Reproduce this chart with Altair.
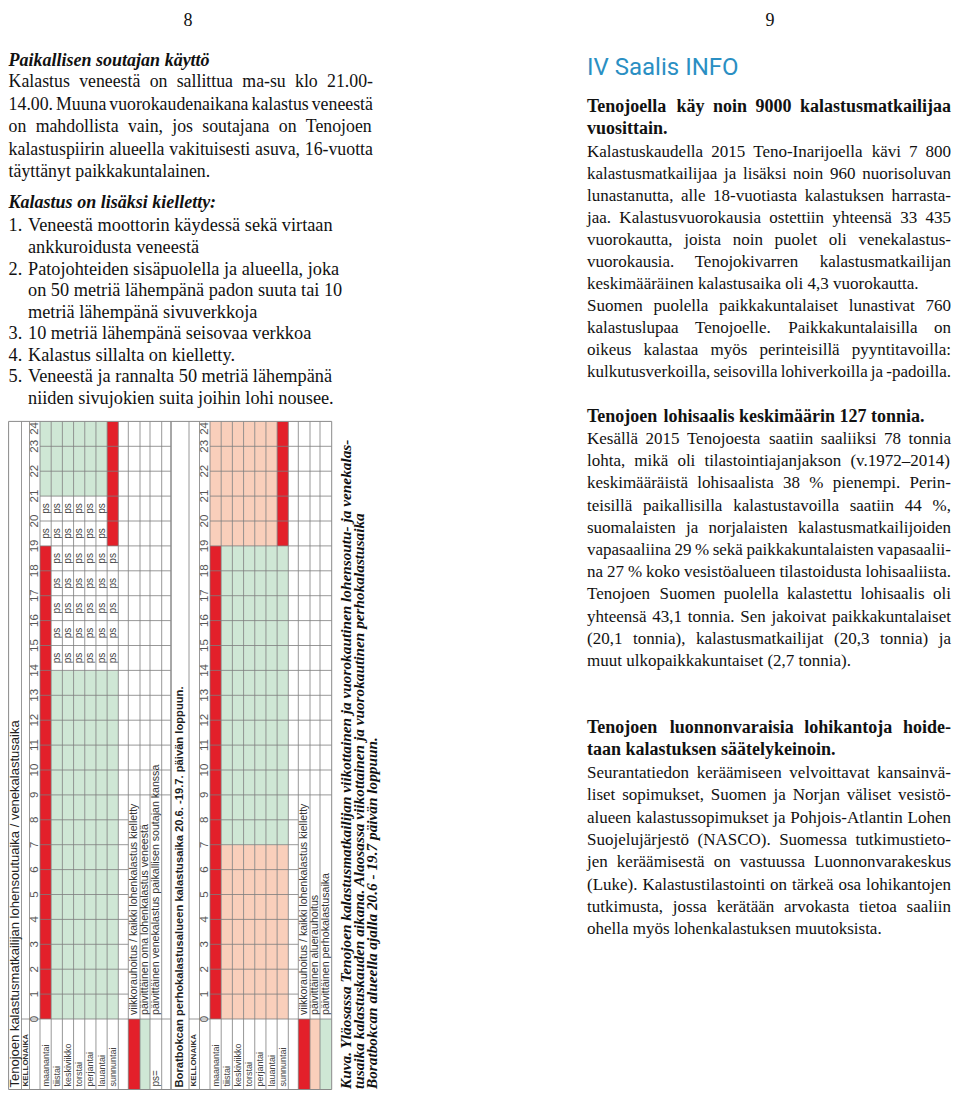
import altair as alt
import pandas as pd

# ---------------- data (text content, schedule values) ----------------
page_numbers = ["8", "9"]

left_heading_1 = "Paikallisen soutajan käyttö"
left_paragraph = [
    "Kalastus veneestä on sallittua ma-su klo 21.00-",
    "14.00. Muuna vuorokaudenaikana kalastus veneestä",
    "on mahdollista vain, jos soutajana on Tenojoen",
    "kalastuspiirin alueella vakituisesti asuva, 16-vuotta",
    "täyttänyt paikkakuntalainen.",
]
left_heading_2 = "Kalastus on lisäksi kielletty:"
list_numbers = ["1.", "", "2.", "", "", "3.", "4.", "5.", ""]
list_lines = [
    "Veneestä moottorin käydessä sekä virtaan",
    "ankkuroidusta veneestä",
    "Patojohteiden sisäpuolella ja alueella, joka",
    "on 50 metriä lähempänä padon suuta tai 10",
    "metriä lähempänä sivuverkkoja",
    "10 metriä lähempänä seisovaa verkkoa",
    "Kalastus sillalta on kielletty.",
    "Veneestä ja rannalta 50 metriä lähempänä",
    "niiden sivujokien suita joihin lohi nousee.",
]

right_title = "IV Saalis INFO"
right_bold_1 = ["Tenojoella käy noin 9000 kalastusmatkailijaa", "vuosittain."]
right_body_1 = [
    "Kalastuskaudella 2015 Teno-Inarijoella kävi 7 800",
    "kalastusmatkailijaa ja lisäksi noin 960 nuorisoluvan",
    "lunastanutta, alle 18-vuotiasta kalastuksen harrasta-",
    "jaa. Kalastusvuorokausia ostettiin yhteensä 33 435",
    "vuorokautta, joista noin puolet oli venekalastus-",
    "vuorokausia. Tenojokivarren kalastusmatkailijan",
    "keskimääräinen kalastusaika oli 4,3 vuorokautta.",
    "Suomen puolella paikkakuntalaiset lunastivat 760",
    "kalastuslupaa Tenojoelle. Paikkakuntalaisilla on",
    "oikeus kalastaa myös perinteisillä pyyntitavoilla:",
    "kulkutusverkoilla, seisovilla lohiverkoilla ja -padoilla.",
]
right_bold_2 = ["Tenojoen lohisaalis keskimäärin 127 tonnia."]
right_body_2 = [
    "Kesällä 2015 Tenojoesta saatiin saaliiksi 78 tonnia",
    "lohta, mikä oli tilastointiajanjakson (v.1972–2014)",
    "keskimääräistä lohisaalista 38 % pienempi. Perin-",
    "teisillä paikallisilla kalastustavoilla saatiin 44 %,",
    "suomalaisten ja norjalaisten kalastusmatkailijoiden",
    "vapasaaliina 29 % sekä paikkakuntalaisten vapasaalii-",
    "na 27 % koko vesistöalueen tilastoidusta lohisaaliista.",
    "Tenojoen Suomen puolella kalastettu lohisaalis oli",
    "yhteensä 43,1 tonnia. Sen jakoivat paikkakuntalaiset",
    "(20,1 tonnia), kalastusmatkailijat (20,3 tonnia) ja",
    "muut ulkopaikkakuntaiset (2,7 tonnia).",
]
right_bold_3 = ["Tenojoen luonnonvaraisia lohikantoja hoide-",
                "taan kalastuksen säätelykeinoin."]
right_body_3 = [
    "Seurantatiedon keräämiseen velvoittavat kansainvä-",
    "liset sopimukset, Suomen ja Norjan väliset vesistö-",
    "alueen kalastussopimukset ja Pohjois-Atlantin Lohen",
    "Suojelujärjestö (NASCO). Suomessa tutkimustieto-",
    "jen keräämisestä on vastuussa Luonnonvarakeskus",
    "(Luke). Kalastustilastointi on tärkeä osa lohikantojen",
    "tutkimusta, jossa kerätään arvokasta tietoa saaliin",
    "ohella myös lohenkalastuksen muutoksista.",
]
# lines that close a paragraph (not justified)
paragraph_ends_left = [4]
paragraph_ends_right_1 = [6, 10]
paragraph_ends_right_2 = [10]
paragraph_ends_right_3 = [7]

hours = list(range(25))
days = ["maanantai", "tiistai", "keskiviikko", "torstai",
        "perjantai", "lauantai", "sunnuntai"]
clock_label = "KELLONAIKA"
table_titles = [
    "Tenojoen kalastusmatkailijan lohensoutuaika / venekalastusaika",
    "Boratbokcan perhokalastusalueen kalastusaika 20.6. -19.7. päivän loppuun.",
]

# (start hour, end hour, category) for each day
schedule_1 = [
    [(0, 19, "kielletty"), (19, 21, "ps"), (21, 24, "sallittu")],
    [(0, 14, "sallittu"), (14, 21, "ps"), (21, 24, "sallittu")],
    [(0, 14, "sallittu"), (14, 21, "ps"), (21, 24, "sallittu")],
    [(0, 14, "sallittu"), (14, 21, "ps"), (21, 24, "sallittu")],
    [(0, 14, "sallittu"), (14, 21, "ps"), (21, 24, "sallittu")],
    [(0, 14, "sallittu"), (14, 21, "ps"), (21, 24, "sallittu")],
    [(0, 14, "sallittu"), (14, 19, "ps"), (19, 24, "kielletty")],
]
schedule_2 = [
    [(0, 19, "kielletty"), (19, 24, "rauhoitus")],
    [(0, 7, "rauhoitus"), (7, 19, "sallittu"), (19, 24, "rauhoitus")],
    [(0, 7, "rauhoitus"), (7, 19, "sallittu"), (19, 24, "rauhoitus")],
    [(0, 7, "rauhoitus"), (7, 19, "sallittu"), (19, 24, "rauhoitus")],
    [(0, 7, "rauhoitus"), (7, 19, "sallittu"), (19, 24, "rauhoitus")],
    [(0, 7, "rauhoitus"), (7, 19, "sallittu"), (19, 24, "rauhoitus")],
    [(0, 7, "rauhoitus"), (7, 19, "sallittu"), (19, 24, "kielletty")],
]
legend_1 = [
    ("kielletty", "viikkorauhoitus / kaikki lohenkalastus kielletty"),
    ("sallittu", "päivittäinen oma lohenkalastus veneestä"),
    ("ps", "päivittäinen venekalastus paikallisen soutajan kanssa"),
]
legend_2 = [
    ("kielletty", "viikkorauhoitus / kaikki lohenkalastus kielletty"),
    ("rauhoitus", "päivittäinen aluerauhoitus"),
    ("sallittu", "päivittäinen perhokalastusaika"),
]
ps_label = "ps"
ps_legend_label = "ps="
categories = ["kielletty", "sallittu", "rauhoitus", "ps"]
category_colors = ["#E3202A", "#CFE7D5", "#F9CFBB", "#FFFFFF"]

caption_lines = [
    "Kuva. Yläosassa Tenojoen kalastusmatkailijan viikottainen ja vuorokautinen lohensoutu- ja venekalas-",
    "tusaika kalastuskauden aikana. Alaosassa viikottainen ja vuorokautinen perhokalastusaika",
    "Boratbokcan alueella ajalla 20.6 - 19.7 päivän loppuun.",
]

# ---------------- layout (page pixel frame; the plot area starts at the 8px margin) ----------------
X_MIN, X_MAX, Y_MIN, Y_MAX = 8, 952, 8, 1090
W, H = X_MAX - X_MIN, Y_MAX - Y_MIN
SERIF = "Liberation Serif"
SANS = "Liberation Sans"
TITLE_FONT = "Roboto"

Y_H0, H_PX = 1019.0, 24.9          # hour 0 line, px per hour
Y_BOTTOM = 1089.5
TABLE_X0 = [1.0, 171.0]
TABLE_LEFT = [8.6, 171.0]
TITLE_X = [15.2, 180.0]
TITLE_BAND_END = [20.5, 18.0]
CLOCK_BAND = (18.0, 28.5)
HOUR_BAND = (28.5, 39.0)
DAY_X0, DAY_W = 39.0, 11.19
EXTRA_EDGES = [[117.3, 127.3, 139.0, 149.0, 160.7, 170.0],
               [117.3, 127.3, 139.0, 149.0, 160.7]]
LEGEND_COLS = [(127.3, 139.0), (139.0, 149.0), (149.0, 160.7)]
LEGEND_GRID_FROM = 9

# Times advance widths (1/1000 em) used to justify lines
_LOW = "abcdefghijklmnopqrstuvwxyz"
_UP = "ABCDEFGHIJKLMNOPQRSTUVWXYZ"
TIMES_R = dict(zip(_LOW, [444, 500, 444, 500, 444, 333, 500, 500, 278, 278, 500, 278, 778,
                          500, 500, 500, 500, 333, 389, 278, 500, 500, 722, 500, 500, 444]))
TIMES_R.update(zip(_UP, [722, 667, 667, 722, 611, 556, 722, 722, 333, 389, 722, 611, 889,
                         722, 722, 556, 722, 667, 556, 611, 722, 722, 944, 722, 722, 611]))
TIMES_R.update({" ": 250, ".": 250, ",": 250, "-": 333, ":": 278, ";": 278, "(": 333,
                ")": 333, "%": 833, "/": 278, "–": 500})
TIMES_B = dict(zip(_LOW, [500, 556, 444, 556, 444, 333, 500, 556, 278, 333, 556, 278, 833,
                          556, 500, 556, 556, 444, 389, 333, 556, 500, 722, 500, 500, 444]))
TIMES_B.update(zip(_UP, [722, 667, 722, 722, 667, 611, 778, 778, 389, 500, 778, 667, 944,
                         722, 778, 611, 778, 722, 556, 667, 722, 722, 1000, 722, 722, 667]))
TIMES_B.update({" ": 250, ".": 250, ",": 250, "-": 333, ":": 333, ";": 333, "(": 333,
                ")": 333, "%": 1000, "/": 278, "–": 500})
for tb in (TIMES_R, TIMES_B):
    tb.update({"ä": tb["a"], "ö": tb["o"], "å": tb["a"], "Ä": tb["A"], "Ö": tb["O"]})


def text_w(s, table, size):
    return sum(table.get(c, 500) for c in s) * size / 1000.0


def justified_words(lines, x0, x1, y0, dy, size, table, ends):
    rows = []
    for i, line in enumerate(lines):
        words = line.split(" ")
        ws = [text_w(w, table, size) for w in words]
        space = table[" "] * size / 1000.0
        natural = sum(ws) + space * (len(words) - 1)
        gap = space
        if len(words) > 1 and (i not in ends or natural > x1 - x0):
            gap = max((x1 - x0 - sum(ws)) / (len(words) - 1), 2.5)
        x = x0
        for w, wd in zip(words, ws):
            rows.append(dict(x=x, y=y0 + dy * i, t=w))
            x += wd + gap
    return rows


def hour_y(h):
    return Y_H0 - h * H_PX


XS = alt.Scale(domain=[X_MIN, X_MAX], nice=False, zero=False)
YS = alt.Scale(domain=[Y_MAX, Y_MIN], nice=False, zero=False)


def text_layer(rows, **mark):
    df = pd.DataFrame(rows)
    return alt.Chart(df).mark_text(**mark).encode(
        x=alt.X("x:Q", scale=XS, axis=None),
        y=alt.Y("y:Q", scale=YS, axis=None),
        text=alt.Text("t:N"))


def seg_layer(rows, mark):
    return alt.Chart(pd.DataFrame(rows)).mark_rule(**mark).encode(
        x=alt.X("x:Q", scale=XS, axis=None), x2="x2:Q",
        y=alt.Y("y:Q", scale=YS, axis=None), y2="y2:Q")


layers = []

# ---- table fills ----
cells = []
for t, sched in enumerate([schedule_1, schedule_2]):
    x0 = TABLE_X0[t]
    for i, segs in enumerate(sched):
        xa = x0 + DAY_X0 + i * DAY_W
        for a, b, cat in segs:
            cells.append(dict(x=xa, x2=xa + DAY_W, y=hour_y(b), y2=hour_y(a), cat=cat))
for t, legend in enumerate([legend_1, legend_2]):
    x0 = TABLE_X0[t]
    for k, (cat, label) in enumerate(legend):
        c0, c1 = LEGEND_COLS[k]
        if cat != "ps":
            cells.append(dict(x=x0 + c0, x2=x0 + c1, y=hour_y(0), y2=Y_BOTTOM, cat=cat))
layers.append(
    alt.Chart(pd.DataFrame(cells)).mark_rect(strokeWidth=0).encode(
        x=alt.X("x:Q", scale=XS, axis=None), x2="x2:Q",
        y=alt.Y("y:Q", scale=YS, axis=None), y2="y2:Q",
        color=alt.Color("cat:N", scale=alt.Scale(domain=categories, range=category_colors),
                        legend=None))
)

# ---- grid lines ----
grid = []
for t in range(2):
    x0 = TABLE_X0[t]
    top = hour_y(24)
    edges = EXTRA_EDGES[t]
    right = x0 + edges[-1]
    vx = [TITLE_BAND_END[t], CLOCK_BAND[1], HOUR_BAND[1]] + \
         [DAY_X0 + i * DAY_W for i in range(1, 7)] + edges[:-1]
    for v in vx:
        grid.append(dict(x=x0 + v, x2=x0 + v, y=top, y2=Y_BOTTOM))
    for h in hours[1:24]:
        grid.append(dict(x=x0 + DAY_X0, x2=x0 + edges[1], y=hour_y(h), y2=hour_y(h)))
        if h >= LEGEND_GRID_FROM:
            grid.append(dict(x=x0 + edges[1], x2=right, y=hour_y(h), y2=hour_y(h)))
    grid.append(dict(x=x0 + TITLE_BAND_END[t], x2=right, y=hour_y(0), y2=hour_y(0)))
layers.append(seg_layer(grid, dict(color="#7d7d7d", strokeWidth=0.8)))

# ---- outer borders ----
borders = []
for t in range(2):
    left = TABLE_LEFT[t]
    right = TABLE_X0[t] + EXTRA_EDGES[t][-1]
    top = hour_y(24)
    borders += [dict(x=left, x2=left, y=top, y2=Y_BOTTOM),
                dict(x=right, x2=right, y=top, y2=Y_BOTTOM),
                dict(x=left, x2=right, y=top, y2=top),
                dict(x=left, x2=right, y=Y_BOTTOM, y2=Y_BOTTOM)]
layers.append(seg_layer(borders, dict(color="#8a8a8a", strokeWidth=1)))

# ---- table texts ----
hour_rows, day_rows, ps_rows, title_rows, clock_rows, legend_rows, psl_rows = [], [], [], [], [], [], []
for t, sched in enumerate([schedule_1, schedule_2]):
    x0 = TABLE_X0[t]
    for h in hours:
        hour_rows.append(dict(x=x0 + (HOUR_BAND[0] + HOUR_BAND[1]) / 2 + 0.5,
                              y=max(hour_y(h), hour_y(24) + 7), t=str(h)))
    for i, d in enumerate(days):
        xc = x0 + DAY_X0 + (i + 0.5) * DAY_W
        day_rows.append(dict(x=xc, y=Y_BOTTOM - 3, t=d))
        for a, b, cat in sched[i]:
            if cat == "ps":
                for h in range(a, b):
                    ps_rows.append(dict(x=xc, y=hour_y(h + 0.5), t=ps_label))
    title_rows.append(dict(x=TITLE_X[t], y=Y_BOTTOM - 2, t=table_titles[t]))
    clock_rows.append(dict(x=x0 + (TITLE_BAND_END[t] + CLOCK_BAND[1]) / 2, y=Y_BOTTOM - 3,
                           t=clock_label))
    for k, (cat, label) in enumerate([legend_1, legend_2][t]):
        c0, c1 = LEGEND_COLS[k]
        legend_rows.append(dict(x=x0 + (c0 + c1) / 2, y=hour_y(0) - 4, t=label))
        if cat == "ps":
            psl_rows.append(dict(x=x0 + (c0 + c1) / 2, y=Y_BOTTOM - 3, t=ps_legend_label))

layers.append(text_layer(hour_rows, font=SANS, fontSize=11.5, angle=270, align="center",
                         baseline="middle", color="#555555"))
layers.append(text_layer(day_rows, font=SANS, fontSize=9, angle=270, align="left",
                         baseline="middle", color="#444444"))
layers.append(text_layer(ps_rows, font=SANS, fontSize=10, angle=270, align="center",
                         baseline="middle", color="#444444"))
layers.append(text_layer(psl_rows, font=SANS, fontSize=10, angle=270, align="left",
                         baseline="middle", color="#444444"))
layers.append(text_layer(title_rows[:1], font=SANS, fontSize=13, angle=270, align="left",
                         baseline="middle", color="#1e1e1e"))
layers.append(text_layer(title_rows[1:], font=SANS, fontSize=11.2, fontWeight="bold",
                         angle=270, align="left", baseline="middle", color="#1e1e1e"))
layers.append(text_layer(clock_rows, font=SANS, fontSize=8, fontWeight="bold", angle=270,
                         align="left", baseline="middle", color="#333333"))
layers.append(text_layer(legend_rows, font=SANS, fontSize=10.6, angle=270, align="left",
                         baseline="middle", color="#333333"))

# ---- caption (rotated) ----
cap_x = [351.0, 364.0, 377.0]
layers.append(text_layer([dict(x=cap_x[i], y=1089, t=s) for i, s in enumerate(caption_lines)],
                         font=SERIF, fontSize=15.3, fontWeight="bold", fontStyle="italic",
                         angle=270, align="left", baseline="alphabetic", color="#111111"))

# ---- page numbers ----
layers.append(text_layer([dict(x=188, y=12, t=page_numbers[0]), dict(x=770, y=12, t=page_numbers[1])],
                         font=SERIF, fontSize=18, align="center", baseline="top",
                         color="#111111"))

# ---- left page text ----
LX, LIST_X, LRIGHT = 8.6, 28.0, 373.0
LSIZE, LIST_SIZE = 17.8, 18.3
layers.append(text_layer([dict(x=LX, y=66, t=left_heading_1), dict(x=LX, y=208, t=left_heading_2)],
                         font=SERIF, fontSize=18, fontWeight="bold", fontStyle="italic",
                         align="left", baseline="alphabetic", color="#111111"))
list_y = [231, 253, 274.5, 296, 317.5, 339, 360.5, 382, 403.5]
body_rows = justified_words(left_paragraph, LX, LRIGHT, 87, 22.5, LSIZE, TIMES_R,
                            paragraph_ends_left)
layers.append(text_layer(body_rows, font=SERIF, fontSize=LSIZE, align="left",
                         baseline="alphabetic", color="#111111"))
list_rows = [dict(x=LX, y=list_y[i], t=s) for i, s in enumerate(list_numbers) if s]
list_rows += [dict(x=LIST_X, y=list_y[i], t=s) for i, s in enumerate(list_lines)]
layers.append(text_layer(list_rows, font=SERIF, fontSize=LIST_SIZE, align="left",
                         baseline="alphabetic", color="#111111"))

# ---- right page text ----
RX, RRIGHT, RSIZE, RBSIZE = 587.0, 951.0, 17.0, 18.0
layers.append(text_layer([dict(x=RX, y=75, t=right_title)], font=TITLE_FONT, fontSize=24,
                         align="left", baseline="alphabetic", color="#2A8FC3"))
bold_rows = []
bold_rows += justified_words(right_bold_1, RX, RRIGHT, 112, 21.5, RBSIZE, TIMES_B, [1])
bold_rows += justified_words(right_bold_2, RX, RRIGHT, 422, 22, RBSIZE, TIMES_B, [0])
bold_rows += justified_words(right_bold_3, RX, RRIGHT, 733, 22, RBSIZE, TIMES_B, [1])
reg_rows = []
reg_rows += justified_words(right_body_1, RX, RRIGHT, 157, 22.0, RSIZE, TIMES_R,
                            paragraph_ends_right_1)
reg_rows += justified_words(right_body_2, RX, RRIGHT, 444, 22.2, RSIZE, TIMES_R,
                            paragraph_ends_right_2)
reg_rows += justified_words(right_body_3, RX, RRIGHT, 778, 22.3, RSIZE, TIMES_R,
                            paragraph_ends_right_3)
layers.append(text_layer(bold_rows, font=SERIF, fontSize=RBSIZE, fontWeight="bold", align="left",
                         baseline="alphabetic", color="#111111"))
layers.append(text_layer(reg_rows, font=SERIF, fontSize=RSIZE, align="left",
                         baseline="alphabetic", color="#111111"))

chart = alt.layer(*layers).properties(
    width=W, height=H, padding=0, autosize=alt.AutoSizeParams(type="none"),
    background="white",
).configure_view(stroke=None)

chart.save("out.html", embed_options={"renderer": "svg", "actions": False})
